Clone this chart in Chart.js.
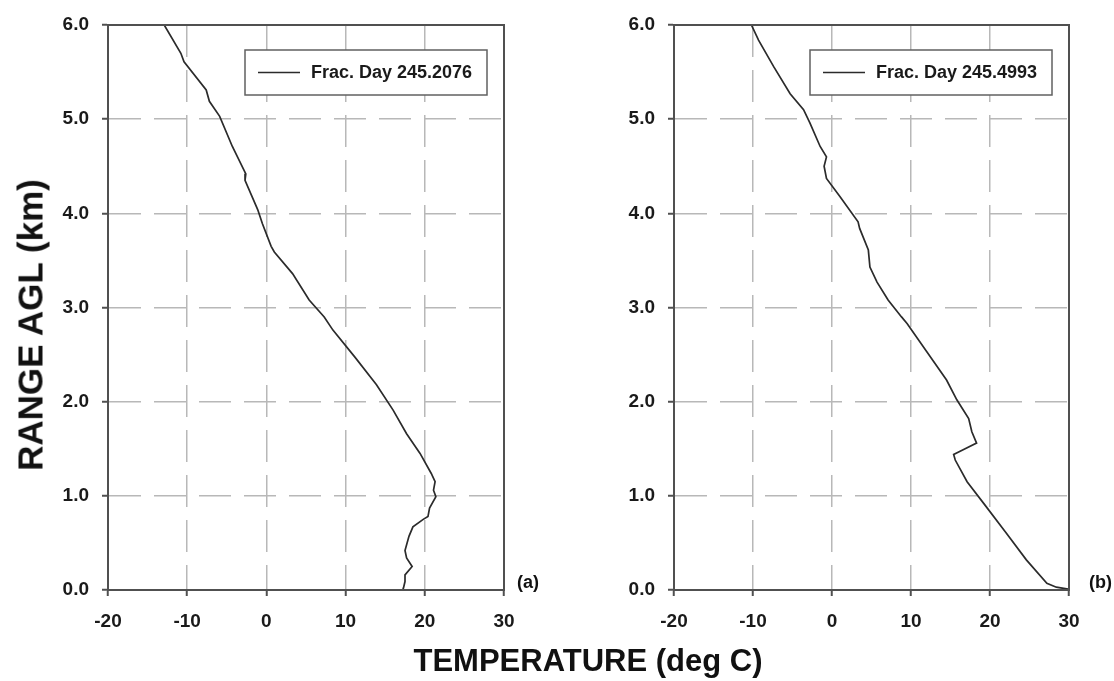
<!DOCTYPE html>
<html>
<head>
<meta charset="utf-8">
<script src="https://cdn.jsdelivr.net/npm/chart.js@4/dist/chart.umd.min.js"></script>
<style>
  body { margin: 0; background: #fff; width: 1114px; height: 681px; overflow: hidden; position: relative; font-family: "Liberation Sans", Arial, sans-serif; }
  canvas { position: absolute; top: 0; }
  #chartA { left: 0; }
  #chartB { left: 560px; }
  .label { position: absolute; font-weight: bold; color: #111; white-space: nowrap; }
  #ytitle { left: 30px; top: 325px; font-size: 35px; line-height: 35px; transform: translate(-50%, -50%) rotate(-90deg); }
  #xtitle { left: 588px; top: 646px; font-size: 31px; line-height: 30px; transform: translateX(-50%); }
  #tagA { left: 517px; top: 572px; font-size: 18px; }
  #tagB { left: 1089px; top: 572px; font-size: 18px; }
</style>
</head>
<body>
<canvas id="chartA" width="540" height="681"></canvas>
<canvas id="chartB" width="554" height="681"></canvas>
<div class="label" id="ytitle">RANGE AGL (km)</div>
<div class="label" id="xtitle">TEMPERATURE (deg C)</div>
<div class="label" id="tagA">(a)</div>
<div class="label" id="tagB">(b)</div>
<script>
// profile (a)
const labelA = "Frac. Day 245.2076";
const tempA = [-12.9, -10.8, -10.4, -7.6, -7.2, -5.9, -4.3, -2.6, -2.7, -1.1, -0.5, 0.6, 1.0, 3.3, 5.4, 7.3, 8.4, 11.2, 13.9, 16.0, 17.7, 19.4, 20.8, 21.3, 21.1, 21.4, 20.6, 20.4, 19.8, 18.5, 18.0, 17.5, 17.7, 18.4, 17.5, 17.5, 17.3, 17.2];
const heightA = [6.0, 5.70, 5.61, 5.31, 5.19, 5.03, 4.71, 4.42, 4.35, 4.04, 3.89, 3.65, 3.59, 3.36, 3.08, 2.90, 2.76, 2.47, 2.18, 1.91, 1.66, 1.45, 1.24, 1.15, 1.06, 0.99, 0.87, 0.78, 0.75, 0.67, 0.57, 0.42, 0.34, 0.25, 0.16, 0.09, 0.02, 0.0];

// profile (b)
const labelB = "Frac. Day 245.4993";
const tempB = [-10.2, -9.3, -7.4, -5.3, -3.6, -2.8, -1.5, -0.7, -1.0, -0.7, 1.0, 3.3, 3.5, 4.6, 4.8, 5.7, 7.1, 8.8, 9.5, 12.0, 14.5, 15.8, 17.3, 17.7, 18.3, 16.6, 15.4, 15.6, 17.1, 19.2, 22.1, 24.6, 27.2, 28.4, 29.9];
const heightB = [6.0, 5.84, 5.56, 5.27, 5.10, 4.96, 4.71, 4.60, 4.50, 4.37, 4.18, 3.91, 3.84, 3.61, 3.43, 3.27, 3.08, 2.90, 2.83, 2.53, 2.23, 2.02, 1.82, 1.68, 1.56, 1.49, 1.44, 1.38, 1.15, 0.92, 0.60, 0.32, 0.07, 0.03, 0.01];

// axes
const xTicks = [-20, -10, 0, 10, 20, 30];
const yTicks = [0, 1, 2, 3, 4, 5, 6];

const tickFont = { family: "'Liberation Sans', Arial, sans-serif", size: 19, weight: "bold" };
const gridGray = "#b8b8b8";
const frameGray = "#505050";

/**
 * Frame around the plot area plus the boxed legend in the upper right.
 */
const framePlugin = {
    id: "frame",
    afterDatasetsDraw(chart) {
        const { ctx, chartArea } = chart;
        const ds = chart.data.datasets[0];
        ctx.save();
        ctx.strokeStyle = frameGray;
        ctx.lineWidth = 2;
        ctx.strokeRect(chartArea.left, chartArea.top, chartArea.right - chartArea.left, chartArea.bottom - chartArea.top);

        // legend box
        const w = 242, h = 45;
        const bx = chartArea.right - 17 - w;
        const by = chartArea.top + 25;
        ctx.fillStyle = "#fff";
        ctx.fillRect(bx, by, w, h);
        ctx.lineWidth = 1.5;
        ctx.strokeStyle = "#606060";
        ctx.strokeRect(bx, by, w, h);
        ctx.beginPath();
        ctx.strokeStyle = ds.borderColor;
        ctx.lineWidth = 1.5;
        ctx.moveTo(bx + 13, by + h / 2);
        ctx.lineTo(bx + 55, by + h / 2);
        ctx.stroke();
        ctx.fillStyle = "#1a1a1a";
        ctx.font = "bold 18px 'Liberation Sans', Arial, sans-serif";
        ctx.textBaseline = "middle";
        ctx.fillText(ds.label, bx + 66, by + h / 2 + 1);
        ctx.restore();
    }
};

function makeChart(id, temps, heights, label, yWidth, padRight) {
    const points = temps.map((t, i) => ({ x: t, y: heights[i] }));
    return new Chart(document.getElementById(id), {
        type: "scatter",
        data: {
            datasets: [{
                label: label,
                data: points,
                showLine: true,
                borderColor: "#2b2b2b",
                borderWidth: 1.7,
                pointRadius: 0,
                tension: 0
            }]
        },
        options: {
            responsive: false,
            animation: false,
            devicePixelRatio: 1,
            layout: { padding: { left: 0, top: 25, right: padRight, bottom: 0 } },
            plugins: { legend: { display: false }, tooltip: { enabled: false } },
            scales: {
                x: {
                    type: "linear",
                    min: xTicks[0],
                    max: xTicks[xTicks.length - 1],
                    afterBuildTicks: (scale) => { scale.ticks = xTicks.map(v => ({ value: v })); },
                    afterFit: (scale) => { scale.height = 91; },
                    grid: { color: gridGray, lineWidth: 1.5, tickLength: 6, tickColor: frameGray, tickWidth: 2 },
                    border: { display: true, color: frameGray, width: 2, dash: [32, 13] },
                    ticks: { font: tickFont, color: "#1a1a1a", padding: 14, maxRotation: 0 }
                },
                y: {
                    type: "linear",
                    min: yTicks[0],
                    max: yTicks[yTicks.length - 1],
                    afterBuildTicks: (scale) => { scale.ticks = yTicks.map(v => ({ value: v })); },
                    afterFit: (scale) => { scale.width = yWidth; },
                    grid: { color: gridGray, lineWidth: 1.5, tickLength: 6, tickColor: frameGray, tickWidth: 2 },
                    border: { display: true, color: frameGray, width: 2, dash: [32, 13] },
                    ticks: { font: tickFont, color: "#1a1a1a", padding: 13, callback: (v) => v.toFixed(1) }
                }
            }
        },
        plugins: [framePlugin]
    });
}

const chartA = makeChart("chartA", tempA, heightA, labelA, 108, 36);
const chartB = makeChart("chartB", tempB, heightB, labelB, 114, 45);
</script>
</body>
</html>
